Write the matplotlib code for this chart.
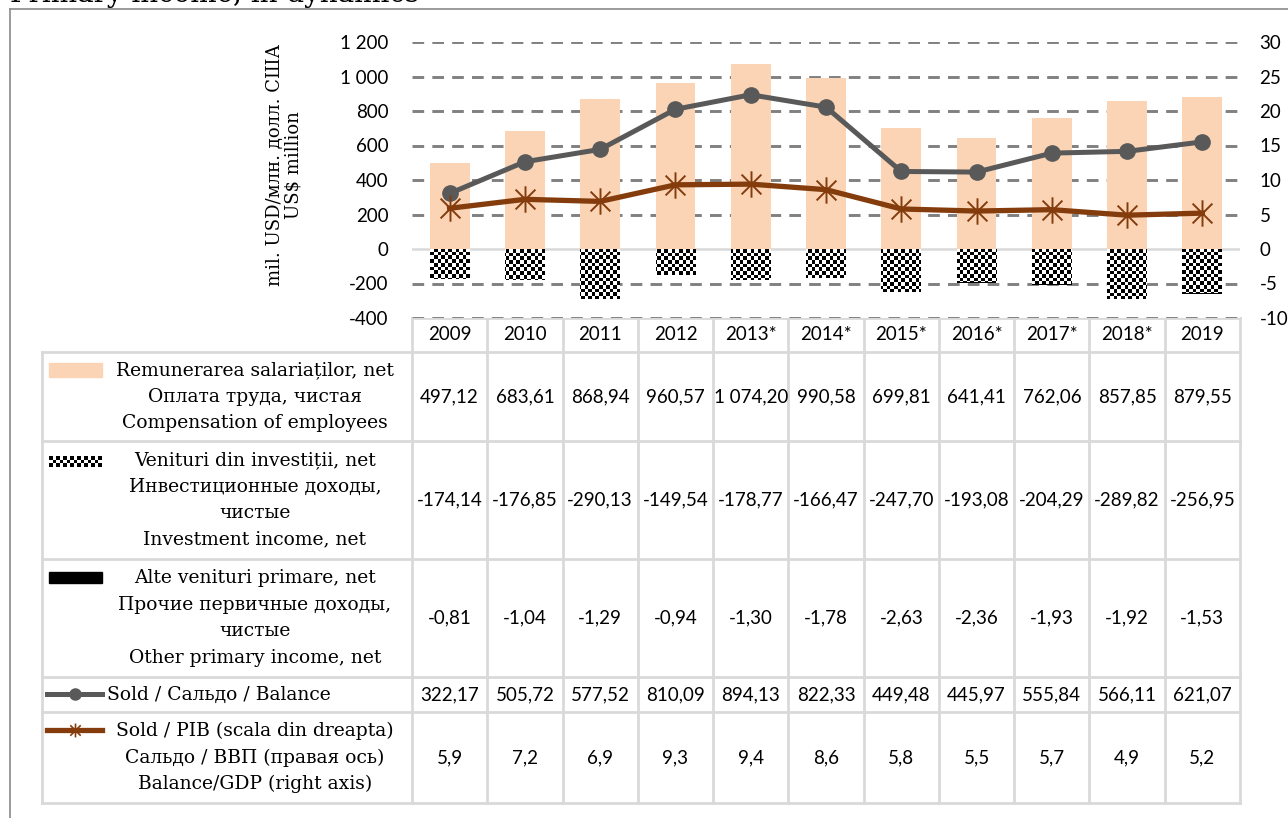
import numpy as np
import matplotlib
matplotlib.use("Agg")
import matplotlib.pyplot as plt
from matplotlib.lines import Line2D
from matplotlib.patches import Rectangle
from matplotlib.path import Path

years = ['2009', '2010', '2011', '2012', '2013*', '2014*', '2015*',
         '2016*', '2017*', '2018*', '2019']
comp = [497.12, 683.61, 868.94, 960.57, 1074.20, 990.58, 699.81,
        641.41, 762.06, 857.85, 879.55]
invest = [-174.14, -176.85, -290.13, -149.54, -178.77, -166.47, -247.70,
          -193.08, -204.29, -289.82, -256.95]
other = [-0.81, -1.04, -1.29, -0.94, -1.30, -1.78, -2.63, -2.36,
         -1.93, -1.92, -1.53]
balance = [322.17, 505.72, 577.52, 810.09, 894.13, 822.33, 449.48,
           445.97, 555.84, 566.11, 621.07]
gdp = [5.9, 7.2, 6.9, 9.3, 9.4, 8.6, 5.8, 5.5, 5.7, 4.9, 5.2]

left_ticks = [-400, -200, 0, 200, 400, 600, 800, 1000, 1200]
right_ticks = [-10, -5, 0, 5, 10, 15, 20, 25, 30]

row_labels = [
    ['Remunerarea salariaților, net', 'Оплата труда, чистая',
     'Compensation of employees'],
    ['Venituri din investiții, net', 'Инвестиционные доходы,', 'чистые',
     'Investment income, net'],
    ['Alte venituri primare, net', 'Прочие первичные доходы,', 'чистые',
     'Other primary income, net'],
    ['Sold / Сальдо / Balance'],
    ['Sold / PIB (scala din dreapta)', 'Сальдо / ВВП (правая ось)',
     'Balance/GDP (right axis)'],
]

PEACH = '#FAD4B4'
GREY = '#595959'
BROWN = '#843C0C'
SERIF = 'DejaVu Serif'
NUM = 'Lato'
NUMSIZE = 13.5

# excel-like star marker: x plus a vertical stroke
STAR = Path([(0, -1), (0, 1), (-0.75, -0.75), (0.75, 0.75), (-0.75, 0.75), (0.75, -0.75)],
            [Path.MOVETO, Path.LINETO, Path.MOVETO, Path.LINETO, Path.MOVETO, Path.LINETO])

W, H = 1288, 818
fig = plt.figure(figsize=(W / 100, H / 100), dpi=100)

# overlay in pixel coordinates for the frame and the data table
ov = fig.add_axes([0, 0, 1, 1])
ov.axis('off')


def fmt(v, dec=2):
    s = f"{v:,.{dec}f}"
    return s.replace(',', ' ').replace('.', ',')


# outer frame (cut by the picture edge)
ov.plot([10, W + 5], [9, 9], color='#8a8a8a', lw=1.2)
ov.plot([10, 10], [9, H + 5], color='#8a8a8a', lw=1.2)
fig.text(10 / W, 1 - 1.5 / H, 'Primary income, in dynamics', fontsize=20,
         family=SERIF, va='baseline', ha='left')

# main chart
x0, x1, ytop, ybot = 412, 1240, 42, 318
ax = fig.add_axes([x0 / W, 1 - ybot / H, (x1 - x0) / W, (ybot - ytop) / H])
ax.set_xlim(-0.5, len(years) - 0.5)
ax.set_ylim(-400, 1200)
for t in left_ticks:
    if t == 0:
        ax.axhline(0, color='#d9d9d9', lw=1.8, zorder=1)
    else:
        ax.axhline(t, color='#808080', lw=2.1, ls=(0, (4, 2.8)), zorder=1)
x = np.arange(len(years))
bw = 0.53
ax.bar(x, comp, bw, color=PEACH, zorder=2)
ibars = ax.bar(x, invest, bw, color='white', zorder=2)
ax.bar(x, other, bw, bottom=invest, color='black', zorder=2)

# checkerboard fill for the investment income bars
cell = 3.6
ncx = int((x1 - x0) / cell)
ncy = int((ybot - 249) / cell)
checker = (np.add.outer(np.arange(ncy), np.arange(ncx)) % 2).astype(float)
for b in ibars:
    im = ax.imshow(checker, cmap='gray', extent=(-0.5, len(years) - 0.5, -400, 0),
                   interpolation='nearest', aspect='auto', zorder=3)
    im.set_clip_path(b)

ax.plot(x, balance, color=GREY, lw=3.6, marker='o', ms=11, zorder=5)
for s in ax.spines.values():
    s.set_visible(False)
ax.set_xticks([])
ax.set_yticks(left_ticks)
ax.set_yticklabels([fmt(t, 0) for t in left_ticks], family=NUM, fontsize=NUMSIZE)
ax.tick_params(axis='y', length=0, pad=17)

ax2 = ax.twinx()
ax2.set_ylim(-10, 30)
ax2.plot(x, gdp, color=BROWN, lw=3.8, marker=STAR, ms=19, mew=1.4, zorder=4)
for s in ax2.spines.values():
    s.set_visible(False)
ax2.set_yticks(right_ticks)
ax2.set_yticklabels([str(t) for t in right_ticks], family=NUM, fontsize=NUMSIZE)
ax2.tick_params(axis='y', length=0, pad=14)

fig.text(284 / W, 1 - 165 / H, 'mil. USD/млн. долл. США\nUS$ million',
         rotation=90, ha='center', va='center', fontsize=13, family=SERIF,
         linespacing=1.05)

# data table
cw = (x1 - x0) / len(years)
lc = '#d9d9d9'
rows = [352, 441, 559, 677, 712, 803]
ov.plot([x0, x1], [318, 318], color=lc, lw=2)
for i in range(len(years) + 1):
    ov.plot([x0 + i * cw] * 2, [318, rows[-1]], color=lc, lw=2)
for i, yl in enumerate(years):
    ov.text(x0 + (i + 0.5) * cw, 335, yl, ha='center', va='center',
            family=NUM, fontsize=NUMSIZE)
for r in rows:
    ov.plot([42, x1], [r, r], color=lc, lw=2)
ov.plot([42, 42], [rows[0], rows[-1]], color=lc, lw=2)

values = [[fmt(v) for v in comp], [fmt(v) for v in invest],
          [fmt(v) for v in other], [fmt(v) for v in balance],
          [fmt(v, 1) for v in gdp]]
for r in range(5):
    yc = (rows[r] + rows[r + 1]) / 2
    for i, s in enumerate(values[r]):
        ov.text(x0 + (i + 0.5) * cw, yc, s, ha='center', va='center',
                family=NUM, fontsize=NUMSIZE)
    lines = row_labels[r]
    n = len(lines)
    for k, ln in enumerate(lines):
        yy = yc + (k - (n - 1) / 2) * 26.5
        if r == 3:
            ov.text(107, yy, ln, ha='left', va='center', family=SERIF, fontsize=13.5)
        else:
            ov.text(255, yy, ln, ha='center', va='center', family=SERIF, fontsize=13.5)

# legend keys
ov.add_patch(Rectangle((49, 363), 53, 14, color=PEACH))
kb = Rectangle((49, 456), 53, 11, facecolor='white', zorder=0)
ov.add_patch(kb)
ck = ov.imshow(checker[:3, :15], cmap='gray', extent=(49, 102, 467, 456),
               interpolation='nearest', aspect='auto', zorder=2)
ck.set_clip_path(kb)
ov.add_patch(Rectangle((49, 572), 53, 11, color='black'))
ov.add_line(Line2D([47, 102], [694, 694], color=GREY, lw=3.6))
ov.plot([75], [694], 'o', color=GREY, ms=8)
ov.add_line(Line2D([47, 102], [730, 730], color=BROWN, lw=3.8))
ov.plot([75], [730], marker=STAR, color=BROWN, ms=10, mew=1.2)
ov.set_xlim(0, W)
ov.set_ylim(H, 0)

fig.savefig('out.png', dpi=100)
